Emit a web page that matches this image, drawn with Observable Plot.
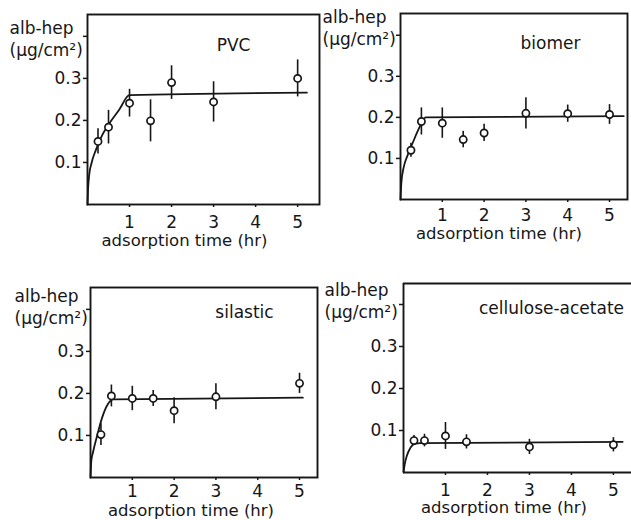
<!DOCTYPE html>
<html><head><meta charset="utf-8">
<script src="https://cdn.jsdelivr.net/npm/d3@7"></script>
<script src="https://cdn.jsdelivr.net/npm/@observablehq/plot@0.6"></script>
<style>
html,body{margin:0;padding:0;background:#fff;overflow:hidden;width:631px;height:520px;}
#wrap{position:relative;width:631px;height:520px;overflow:hidden;}
#wrap svg{position:absolute;max-width:none !important;}
</style></head><body><div id="wrap"></div>
<script>
// ---- text ----
const yLabel = "alb-hep\n(μg/cm²)";
const xLabel = "adsorption time (hr)";
const yTicks = [0.1, 0.2, 0.3, 0.4];
const yTickLabels = ["0.1", "0.2", "0.3", ""];
const xTicks = [1, 2, 3, 4, 5];

// ---- PVC ----
const pvcTime = [0.25, 0.5, 1, 1.5, 2, 3, 5];
const pvcMean = [0.150, 0.184, 0.241, 0.199, 0.290, 0.244, 0.300];
const pvcErr  = [0.030, 0.040, 0.033, 0.050, 0.040, 0.048, 0.044];
const pvcFitTime  = [0, 0.01, 0.04, 0.10, 0.20, 0.35, 0.50, 0.75, 1.00, 5.22];
const pvcFitValue = [0, 0.030, 0.070, 0.100, 0.130, 0.165, 0.190, 0.225, 0.260, 0.266];

// ---- biomer ----
const bioTime = [0.25, 0.5, 1, 1.5, 2, 3, 4, 5];
const bioMean = [0.120, 0.190, 0.186, 0.146, 0.162, 0.210, 0.209, 0.207];
const bioErr  = [0.017, 0.033, 0.037, 0.020, 0.021, 0.038, 0.021, 0.024];
const bioFitTime  = [0, 0.02, 0.08, 0.16, 0.30, 0.45, 0.60, 5.34];
const bioFitValue = [0, 0.040, 0.080, 0.105, 0.140, 0.175, 0.200, 0.203];

// ---- silastic ----
const silTime = [0.25, 0.5, 1, 1.5, 2, 3, 5];
const silMean = [0.102, 0.194, 0.188, 0.188, 0.159, 0.192, 0.224];
const silErr  = [0.026, 0.026, 0.029, 0.019, 0.031, 0.031, 0.024];
const silFitTime  = [0, 0.02, 0.06, 0.16, 0.28, 0.40, 0.55, 5.08];
const silFitValue = [0, 0.040, 0.060, 0.100, 0.143, 0.172, 0.186, 0.190];

// ---- cellulose-acetate ----
const caTime = [0.25, 0.5, 1, 1.5, 3, 5];
const caMean = [0.076, 0.076, 0.087, 0.073, 0.061, 0.066];
const caErr  = [0.012, 0.015, 0.032, 0.017, 0.018, 0.017];
const caFitTime  = [0, 0.03, 0.08, 0.16, 0.28, 0.40, 5.22];
const caFitValue = [0, 0.020, 0.040, 0.058, 0.069, 0.070, 0.073];

const ink = "#161616";
const fs = 17;

function panel(name, time, mean, err, fitTime, fitValue, g) {
  const pts = time.map((t, i) => ({t, m: mean[i], e: err[i]}));
  const fit = fitTime.map((t, i) => ({t, v: fitValue[i]}));
  const frameMarks = g.openRight
    ? [Plot.ruleY([0, g.yd], {stroke: ink, strokeWidth: 1.9}),
       Plot.ruleX([0], {stroke: ink, strokeWidth: 1.9})]
    : [Plot.frame({stroke: ink, strokeWidth: 1.9})];
  const svg = Plot.plot({
    width: g.w, height: g.h,
    marginLeft: g.ml, marginTop: g.mt, marginRight: g.mr, marginBottom: g.mb,
    x: {domain: g.xd},
    y: {domain: [0, g.yd]},
    style: {fontFamily: "'DejaVu Sans', sans-serif", fontSize: fs + "px", background: "transparent", color: ink, overflow: "visible"},
    marks: [
      Plot.axisY(yTicks, {tickSize: 4, tickPadding: 2, strokeWidth: 1.5, label: null,
        tickFormat: d => yTickLabels[yTicks.indexOf(d)], fontSize: fs}),
      Plot.axisX(xTicks, {tickSize: 3, tickPadding: g.tp, strokeWidth: 1.5, label: null,
        tickFormat: d => String(d), fontSize: fs}),
      Plot.line(fit, {x: "t", y: "v", curve: "monotone-x", stroke: ink, strokeWidth: 1.8}),
      Plot.ruleX(pts, {x: "t", y1: d => d.m - d.e, y2: d => d.m + d.e, stroke: ink, strokeWidth: 1.6}),
      Plot.dot(pts, {x: "t", y: "m", r: 3.6, fill: "white", stroke: ink, strokeWidth: 1.7}),
      ...frameMarks,
      Plot.text([name], {text: d => d, frameAnchor: "top-left", dx: g.tdx, dy: g.tdy,
        textAnchor: "middle", lineAnchor: "middle", fontSize: fs, fill: ink}),
      Plot.text([yLabel], {text: d => d, frameAnchor: "top-left", dx: g.ydx, dy: g.ydy,
        textAnchor: "start", lineAnchor: "middle", lineHeight: 1.3, fontSize: fs, fill: ink}),
      Plot.text([xLabel], {text: d => d, frameAnchor: "bottom", dx: g.xdx, dy: g.xdy,
        textAnchor: "middle", lineAnchor: "middle", fontSize: 16.5, fill: ink})
    ]
  });
  svg.style.left = g.left + "px";
  svg.style.top = g.top + "px";
  svg.style.width = g.w + "px";
  svg.style.height = g.h + "px";
  document.getElementById("wrap").appendChild(svg);
}

panel("PVC", pvcTime, pvcMean, pvcErr, pvcFitTime, pvcFitValue,
  {left: 0, top: 0, w: 322, h: 255, ml: 87, mt: 14, mr: 3, mb: 51, xd: [0, 5.52], yd: 0.452, tp: 8,
   tdx: 146, tdy: 31, ydx: -78, ydy: 23, xdx: -19, xdy: 36});
panel("biomer", bioTime, bioMean, bioErr, bioFitTime, bioFitValue,
  {left: 310, top: 0, w: 321, h: 255, ml: 90, mt: 13, mr: 4, mb: 56, xd: [0, 5.43], yd: 0.453, tp: 6,
   tdx: 150, tdy: 30, ydx: -78, ydy: 13, xdx: -15, xdy: 34});
panel("silastic", silTime, silMean, silErr, silFitTime, silFitValue,
  {left: 0, top: 260, w: 322, h: 260, ml: 90, mt: 27, mr: 5, mb: 43, xd: [0, 5.43], yd: 0.452, tp: 4,
   tdx: 154, tdy: 25, ydx: -76, ydy: 18, xdx: -13, xdy: 33});
panel("cellulose-acetate", caTime, caMean, caErr, caFitTime, caFitValue,
  {left: 310, top: 260, w: 330, h: 260, ml: 93, mt: 23, mr: 4, mb: 48, xd: [0, 5.55], yd: 0.45, tp: 8,
   tdx: 148, tdy: 25, ydx: -79, ydy: 16, xdx: -16, xdy: 35, openRight: true});
</script></body></html>
